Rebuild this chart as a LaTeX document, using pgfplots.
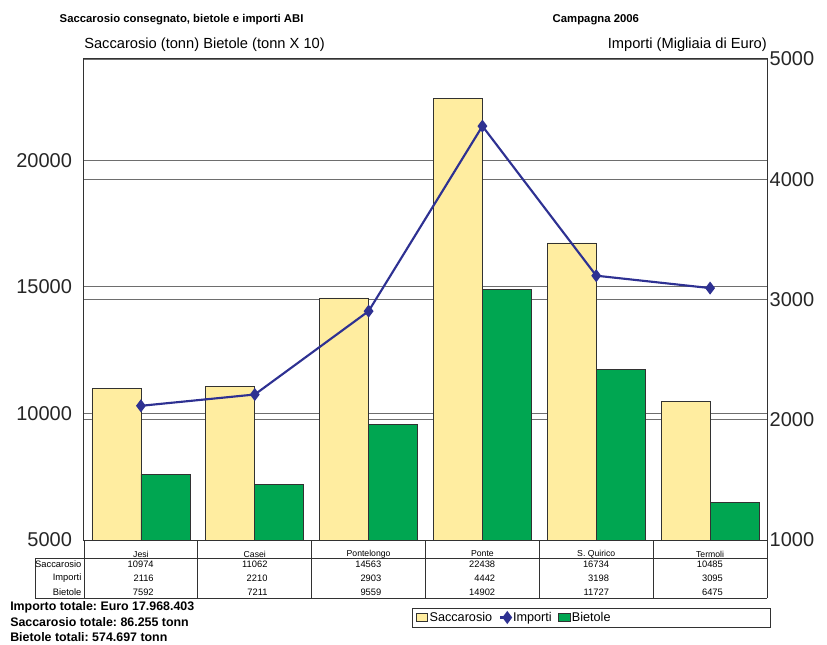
\documentclass[border=0pt]{standalone}
\usepackage{fontspec}
\setmainfont{Liberation Sans}
\usepackage{pgfplots}
\pgfplotsset{compat=1.18}
\definecolor{sacc}{RGB}{255,237,160}
\definecolor{biet}{RGB}{0,166,81}
\definecolor{impo}{RGB}{46,49,146}
\definecolor{gridc}{RGB}{110,110,110}
\definecolor{framec}{RGB}{50,50,50}
\frenchspacing

\pgfplotsset{
  base/.style={
    at={(63pt,78pt)}, anchor=south west, scale only axis,
    width=512.25pt, height=360.75pt,
    xmin=-0.5, xmax=5.5, xtick=\empty,
    major tick length=0pt,
    scaled y ticks=false,
    /pgf/number format/assume math mode=true,
    /pgf/number format/1000 sep={},
    ticklabel style={font=\fontsize{15}{18}\selectfont, text=black!85},
    grid style={gridc, line width=0.7pt},
  }
}

\begin{document}
\begin{tikzpicture}
% right scale: grid and labels
\begin{axis}[base, ymin=1000, ymax=5000, ytick={1000,2000,3000,4000,5000},
  axis y line*=right, axis x line=none, ymajorgrids,
  y axis line style={framec, line width=0.75pt},
  yticklabel style={anchor=west, xshift=-1.5pt}]
\end{axis}
% left scale: grid, bars, frame
\begin{axis}[base, ymin=5000, ymax=24000, ytick={5000,10000,15000,20000},
  ymajorgrids, axis line style={framec, line width=0.75pt},
  ybar, bar width=36.75pt,
  yticklabel style={anchor=east, xshift=-5.5pt}]
\addplot[fill=sacc, draw=framec, line width=0.6pt, bar shift=-18.375pt]
  coordinates {(0,10974) (1,11062) (2,14563) (3,22438) (4,16734) (5,10485)};
\addplot[fill=biet, draw=framec, line width=0.6pt, bar shift=18.375pt]
  coordinates {(0,7592) (1,7211) (2,9559) (3,14902) (4,11727) (5,6475)};
\end{axis}
% right scale: line and legend
\begin{axis}[base, ymin=1000, ymax=5000, hide axis, clip=false,
  legend style={at={(0.4800,-0.1611)}, anchor=west, draw=none, fill=none,
    legend columns=-1, font=\fontsize{9.5}{11}\selectfont,
    /tikz/every even column/.append style={column sep=4pt},
    nodes={inner xsep=1pt}}]
\addlegendimage{legend image code/.code={\draw[fill=sacc, draw=framec, line width=0.6pt] (0pt,-3pt) rectangle (8.5pt,3pt);}}
\addlegendentry{Saccarosio}
\addplot[impo, line width=1.6pt, mark=diamond*, mark size=3.6pt, mark options={solid},
  legend image code/.code={\path (0pt,0pt) -- (8pt,0pt); \draw[impo, mark=diamond*, mark size=3.6pt] plot coordinates {(5.5pt,0pt)};}]
  coordinates {(0,2116) (1,2210) (2,2903) (3,4442) (4,3198) (5,3095)};
\addlegendentry{Importi}
\addlegendimage{legend image code/.code={\draw[fill=biet, draw=framec, line width=0.6pt] (0pt,-3pt) rectangle (8.5pt,3pt);}}
\addlegendentry{Bietole}
\end{axis}

% texts and data table, in pixel units of the reference
\begin{scope}[x=0.75pt, y=-0.75pt, yshift=483pt]
\node[anchor=west, font=\bfseries\fontsize{8.5}{10}\selectfont] at (55,20) {Saccarosio consegnato, bietole e importi ABI};
\node[anchor=west, font=\bfseries\fontsize{8.5}{10}\selectfont] at (548,20) {Campagna 2006};
\node[anchor=west, font=\fontsize{11}{13}\selectfont, inner sep=0pt] at (84,45) {Saccarosio (tonn) Bietole (tonn X 10)};
\node[anchor=east, font=\fontsize{11}{13}\selectfont, inner sep=0pt] at (767,45) {Importi (Migliaia di Euro)};

\draw[framec, line width=0.7pt] (35,558) -- (767,558) (35,598) -- (767,598) (35,558) -- (35,598);
\foreach \k in {0,...,6} {
  \draw[framec, line width=0.7pt] ({84+113.833*\k},540) -- ({84+113.833*\k},598);
}
\foreach \lab/\yy in {Saccarosio/564, Importi/578, Bietole/592}
  \node[anchor=east, inner sep=1pt, font=\fontsize{7}{8}\selectfont] at (83,\yy) {\lab};
\foreach \n/\s/\i/\b [count=\c from 0] in {Jesi/10974/2116/7592, Casei/11062/2210/7211,
    Pontelongo/14563/2903/9559, Ponte/22438/4442/14902, S. Quirico/16734/3198/11727,
    Termoli/10485/3095/6475} {
  \pgfmathsetmacro\cx{84+113.833*(\c+0.5)}
  \node[font=\fontsize{6.5}{8}\selectfont, inner sep=0pt] at (\cx,554) {\n};
  \node[anchor=east, font=\fontsize{7}{8}\selectfont, inner sep=0pt] at (\cx+13,564) {\s};
  \node[anchor=east, font=\fontsize{7}{8}\selectfont, inner sep=0pt] at (\cx+13,578) {\i};
  \node[anchor=east, font=\fontsize{7}{8}\selectfont, inner sep=0pt] at (\cx+13,592) {\b};
}

\node[anchor=west, inner sep=0pt, font=\bfseries\fontsize{9.3}{11}\selectfont] at (10,607) {Importo totale: Euro 17.968.403};
\node[anchor=west, inner sep=0pt, font=\bfseries\fontsize{9.3}{11}\selectfont] at (10,622) {Saccarosio totale: 86.255 tonn};
\node[anchor=west, inner sep=0pt, font=\bfseries\fontsize{9.3}{11}\selectfont] at (10,637) {Bietole totali: 574.697 tonn};

\draw[framec, line width=0.7pt] (412,608) rectangle (770,627);
\end{scope}

\pgfresetboundingbox
\path (0,0) rectangle (620.25pt,483pt);
\end{tikzpicture}
\end{document}
